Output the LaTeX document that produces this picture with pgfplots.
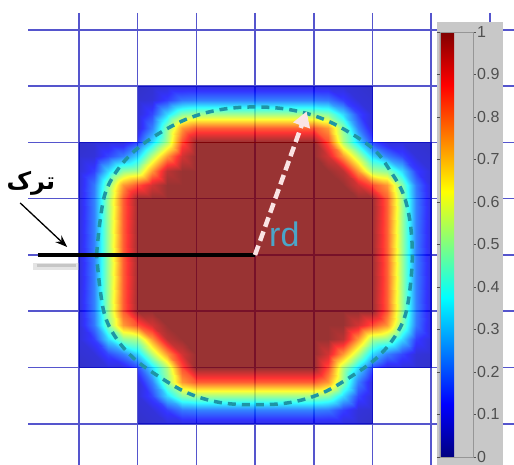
\documentclass[border=0pt]{standalone}
\usepackage{fontspec}
\setmainfont{Liberation Sans}
\newfontfamily\arabicfont[Script=Arabic]{DejaVu Sans}
\usepackage{pgfplots}
\pgfplotsset{compat=1.18}
\usetikzlibrary{arrows.meta}
\TeXXeTstate=1
\definecolor{gridblue}{RGB}{85,85,205}
\definecolor{contourcol}{RGB}{30,150,165}
\definecolor{rdcol}{RGB}{75,165,200}
\definecolor{cbgray}{RGB}{200,200,200}
\definecolor{labgray}{RGB}{80,80,80}
\definecolor{arrowwhite}{RGB}{250,228,228}
\begin{document}
\begin{tikzpicture}
\begin{axis}[name=main, view={0}{90}, scale only axis, width=514pt, height=465pt,
  xmin=-4.344, xmax=4.412, ymin=-3.730, ymax=4.529,
  xtick=\empty, ytick=\empty, ztick=\empty, axis line style={draw=none},
  colormap/jet, point meta min=0, point meta max=1,
  colorbar shift/.style={},
  colorbar,
  colorbar style={at={(parent axis.south west)}, anchor=south west,
    xshift=440pt, yshift=8pt, scale only axis, width=33pt, height=425pt,
    axis line style={draw=labgray!60, line width=0.4pt},
    ytick={0,0.1,0.2,0.3,0.4,0.5,0.6,0.7,0.8,0.9,1},
    yticklabels={0,0.1,0.2,0.3,0.4,0.5,0.6,0.7,0.8,0.9,1},
    yticklabel pos=right,
    yticklabel style={font=\fontsize{16}{16}\selectfont, text=labgray, inner sep=1pt},
    tick align=outside, major tick length=3pt,
    tick style={labgray, line width=0.6pt}},
  ]
% grid lines
\pgfplotsinvokeforeach{-3,...,4}{
  \draw[gridblue, line width=1.6pt] (axis cs:#1,4.30,0) -- (axis cs:#1,-3.9,0);
  \draw[gridblue, line width=1.6pt] (axis cs:-3.867,#1,0) -- (axis cs:4.5,#1,0);
}
% middle part of the damage field
\addplot3[surf, shader=interp, mesh/cols=25, opacity=0.8, point meta=z] coordinates {
(-3,-2,0.06) (-2.75,-2,0.07) (-2.5,-2,0.08) (-2.25,-2,0.08) (-2,-2,0.16) (-1.75,-2,0.33) (-1.5,-2,0.53) (-1.25,-2,0.84) (-1,-2,1) (-0.75,-2,1) (-0.5,-2,1) (-0.25,-2,1) (0,-2,1) (0.25,-2,1) (0.5,-2,1) (0.75,-2,1) (1,-2,1) (1.25,-2,0.84) (1.5,-2,0.53) (1.75,-2,0.33) (2,-2,0.16) (2.25,-2,0.08) (2.5,-2,0.08) (2.75,-2,0.07) (3,-2,0.06)

(-3,-1.75,0.07) (-2.75,-1.75,0.08) (-2.5,-1.75,0.15) (-2.25,-1.75,0.22) (-2,-1.75,0.33) (-1.75,-1.75,0.54) (-1.5,-1.75,0.75) (-1.25,-1.75,0.93) (-1,-1.75,1) (-0.75,-1.75,1) (-0.5,-1.75,1) (-0.25,-1.75,1) (0,-1.75,1) (0.25,-1.75,1) (0.5,-1.75,1) (0.75,-1.75,1) (1,-1.75,1) (1.25,-1.75,0.93) (1.5,-1.75,0.75) (1.75,-1.75,0.54) (2,-1.75,0.33) (2.25,-1.75,0.22) (2.5,-1.75,0.15) (2.75,-1.75,0.08) (3,-1.75,0.07)

(-3,-1.5,0.08) (-2.75,-1.5,0.14) (-2.5,-1.5,0.33) (-2.25,-1.5,0.49) (-2,-1.5,0.53) (-1.75,-1.5,0.75) (-1.5,-1.5,0.96) (-1.25,-1.5,1) (-1,-1.5,1) (-0.75,-1.5,1) (-0.5,-1.5,1) (-0.25,-1.5,1) (0,-1.5,1) (0.25,-1.5,1) (0.5,-1.5,1) (0.75,-1.5,1) (1,-1.5,1) (1.25,-1.5,1) (1.5,-1.5,0.96) (1.75,-1.5,0.75) (2,-1.5,0.53) (2.25,-1.5,0.49) (2.5,-1.5,0.33) (2.75,-1.5,0.14) (3,-1.5,0.08)

(-3,-1.25,0.08) (-2.75,-1.25,0.21) (-2.5,-1.25,0.48) (-2.25,-1.25,0.75) (-2,-1.25,0.84) (-1.75,-1.25,0.93) (-1.5,-1.25,1) (-1.25,-1.25,1) (-1,-1.25,1) (-0.75,-1.25,1) (-0.5,-1.25,1) (-0.25,-1.25,1) (0,-1.25,1) (0.25,-1.25,1) (0.5,-1.25,1) (0.75,-1.25,1) (1,-1.25,1) (1.25,-1.25,1) (1.5,-1.25,1) (1.75,-1.25,0.93) (2,-1.25,0.84) (2.25,-1.25,0.75) (2.5,-1.25,0.48) (2.75,-1.25,0.21) (3,-1.25,0.08)

(-3,-1,0.08) (-2.75,-1,0.22) (-2.5,-1,0.51) (-2.25,-1,0.82) (-2,-1,1) (-1.75,-1,1) (-1.5,-1,1) (-1.25,-1,1) (-1,-1,1) (-0.75,-1,1) (-0.5,-1,1) (-0.25,-1,1) (0,-1,1) (0.25,-1,1) (0.5,-1,1) (0.75,-1,1) (1,-1,1) (1.25,-1,1) (1.5,-1,1) (1.75,-1,1) (2,-1,1) (2.25,-1,0.82) (2.5,-1,0.51) (2.75,-1,0.22) (3,-1,0.08)

(-3,-0.75,0.08) (-2.75,-0.75,0.22) (-2.5,-0.75,0.51) (-2.25,-0.75,0.82) (-2,-0.75,1) (-1.75,-0.75,1) (-1.5,-0.75,1) (-1.25,-0.75,1) (-1,-0.75,1) (-0.75,-0.75,1) (-0.5,-0.75,1) (-0.25,-0.75,1) (0,-0.75,1) (0.25,-0.75,1) (0.5,-0.75,1) (0.75,-0.75,1) (1,-0.75,1) (1.25,-0.75,1) (1.5,-0.75,1) (1.75,-0.75,1) (2,-0.75,1) (2.25,-0.75,0.82) (2.5,-0.75,0.51) (2.75,-0.75,0.22) (3,-0.75,0.08)

(-3,-0.5,0.08) (-2.75,-0.5,0.22) (-2.5,-0.5,0.51) (-2.25,-0.5,0.82) (-2,-0.5,1) (-1.75,-0.5,1) (-1.5,-0.5,1) (-1.25,-0.5,1) (-1,-0.5,1) (-0.75,-0.5,1) (-0.5,-0.5,1) (-0.25,-0.5,1) (0,-0.5,1) (0.25,-0.5,1) (0.5,-0.5,1) (0.75,-0.5,1) (1,-0.5,1) (1.25,-0.5,1) (1.5,-0.5,1) (1.75,-0.5,1) (2,-0.5,1) (2.25,-0.5,0.82) (2.5,-0.5,0.51) (2.75,-0.5,0.22) (3,-0.5,0.08)

(-3,-0.25,0.08) (-2.75,-0.25,0.22) (-2.5,-0.25,0.51) (-2.25,-0.25,0.82) (-2,-0.25,1) (-1.75,-0.25,1) (-1.5,-0.25,1) (-1.25,-0.25,1) (-1,-0.25,1) (-0.75,-0.25,1) (-0.5,-0.25,1) (-0.25,-0.25,1) (0,-0.25,1) (0.25,-0.25,1) (0.5,-0.25,1) (0.75,-0.25,1) (1,-0.25,1) (1.25,-0.25,1) (1.5,-0.25,1) (1.75,-0.25,1) (2,-0.25,1) (2.25,-0.25,0.82) (2.5,-0.25,0.51) (2.75,-0.25,0.22) (3,-0.25,0.08)

(-3,0,0.08) (-2.75,0,0.22) (-2.5,0,0.51) (-2.25,0,0.82) (-2,0,1) (-1.75,0,1) (-1.5,0,1) (-1.25,0,1) (-1,0,1) (-0.75,0,1) (-0.5,0,1) (-0.25,0,1) (0,0,1) (0.25,0,1) (0.5,0,1) (0.75,0,1) (1,0,1) (1.25,0,1) (1.5,0,1) (1.75,0,1) (2,0,1) (2.25,0,0.82) (2.5,0,0.51) (2.75,0,0.22) (3,0,0.08)

(-3,0.25,0.08) (-2.75,0.25,0.22) (-2.5,0.25,0.51) (-2.25,0.25,0.82) (-2,0.25,1) (-1.75,0.25,1) (-1.5,0.25,1) (-1.25,0.25,1) (-1,0.25,1) (-0.75,0.25,1) (-0.5,0.25,1) (-0.25,0.25,1) (0,0.25,1) (0.25,0.25,1) (0.5,0.25,1) (0.75,0.25,1) (1,0.25,1) (1.25,0.25,1) (1.5,0.25,1) (1.75,0.25,1) (2,0.25,1) (2.25,0.25,0.82) (2.5,0.25,0.51) (2.75,0.25,0.22) (3,0.25,0.08)

(-3,0.5,0.08) (-2.75,0.5,0.22) (-2.5,0.5,0.51) (-2.25,0.5,0.82) (-2,0.5,1) (-1.75,0.5,1) (-1.5,0.5,1) (-1.25,0.5,1) (-1,0.5,1) (-0.75,0.5,1) (-0.5,0.5,1) (-0.25,0.5,1) (0,0.5,1) (0.25,0.5,1) (0.5,0.5,1) (0.75,0.5,1) (1,0.5,1) (1.25,0.5,1) (1.5,0.5,1) (1.75,0.5,1) (2,0.5,1) (2.25,0.5,0.82) (2.5,0.5,0.51) (2.75,0.5,0.22) (3,0.5,0.08)

(-3,0.75,0.08) (-2.75,0.75,0.22) (-2.5,0.75,0.51) (-2.25,0.75,0.82) (-2,0.75,1) (-1.75,0.75,1) (-1.5,0.75,1) (-1.25,0.75,1) (-1,0.75,1) (-0.75,0.75,1) (-0.5,0.75,1) (-0.25,0.75,1) (0,0.75,1) (0.25,0.75,1) (0.5,0.75,1) (0.75,0.75,1) (1,0.75,1) (1.25,0.75,1) (1.5,0.75,1) (1.75,0.75,1) (2,0.75,1) (2.25,0.75,0.82) (2.5,0.75,0.51) (2.75,0.75,0.22) (3,0.75,0.08)

(-3,1,0.08) (-2.75,1,0.22) (-2.5,1,0.51) (-2.25,1,0.82) (-2,1,1) (-1.75,1,1) (-1.5,1,1) (-1.25,1,1) (-1,1,1) (-0.75,1,1) (-0.5,1,1) (-0.25,1,1) (0,1,1) (0.25,1,1) (0.5,1,1) (0.75,1,1) (1,1,1) (1.25,1,1) (1.5,1,1) (1.75,1,1) (2,1,1) (2.25,1,0.82) (2.5,1,0.51) (2.75,1,0.22) (3,1,0.08)

(-3,1.25,0.08) (-2.75,1.25,0.21) (-2.5,1.25,0.48) (-2.25,1.25,0.75) (-2,1.25,0.84) (-1.75,1.25,0.93) (-1.5,1.25,1) (-1.25,1.25,1) (-1,1.25,1) (-0.75,1.25,1) (-0.5,1.25,1) (-0.25,1.25,1) (0,1.25,1) (0.25,1.25,1) (0.5,1.25,1) (0.75,1.25,1) (1,1.25,1) (1.25,1.25,1) (1.5,1.25,1) (1.75,1.25,0.93) (2,1.25,0.84) (2.25,1.25,0.75) (2.5,1.25,0.48) (2.75,1.25,0.21) (3,1.25,0.08)

(-3,1.5,0.08) (-2.75,1.5,0.14) (-2.5,1.5,0.33) (-2.25,1.5,0.49) (-2,1.5,0.53) (-1.75,1.5,0.75) (-1.5,1.5,0.96) (-1.25,1.5,1) (-1,1.5,1) (-0.75,1.5,1) (-0.5,1.5,1) (-0.25,1.5,1) (0,1.5,1) (0.25,1.5,1) (0.5,1.5,1) (0.75,1.5,1) (1,1.5,1) (1.25,1.5,1) (1.5,1.5,0.96) (1.75,1.5,0.75) (2,1.5,0.53) (2.25,1.5,0.49) (2.5,1.5,0.33) (2.75,1.5,0.14) (3,1.5,0.08)

(-3,1.75,0.07) (-2.75,1.75,0.08) (-2.5,1.75,0.15) (-2.25,1.75,0.22) (-2,1.75,0.33) (-1.75,1.75,0.54) (-1.5,1.75,0.75) (-1.25,1.75,0.93) (-1,1.75,1) (-0.75,1.75,1) (-0.5,1.75,1) (-0.25,1.75,1) (0,1.75,1) (0.25,1.75,1) (0.5,1.75,1) (0.75,1.75,1) (1,1.75,1) (1.25,1.75,0.93) (1.5,1.75,0.75) (1.75,1.75,0.54) (2,1.75,0.33) (2.25,1.75,0.22) (2.5,1.75,0.15) (2.75,1.75,0.08) (3,1.75,0.07)

(-3,2,0.06) (-2.75,2,0.07) (-2.5,2,0.08) (-2.25,2,0.08) (-2,2,0.16) (-1.75,2,0.33) (-1.5,2,0.53) (-1.25,2,0.84) (-1,2,1) (-0.75,2,1) (-0.5,2,1) (-0.25,2,1) (0,2,1) (0.25,2,1) (0.5,2,1) (0.75,2,1) (1,2,1) (1.25,2,0.84) (1.5,2,0.53) (1.75,2,0.33) (2,2,0.16) (2.25,2,0.08) (2.5,2,0.08) (2.75,2,0.07) (3,2,0.06)
};
% top part
\addplot3[surf, shader=interp, mesh/cols=17, opacity=0.8, point meta=z] coordinates {
(-2,2,0.16) (-1.75,2,0.33) (-1.5,2,0.53) (-1.25,2,0.84) (-1,2,1) (-0.75,2,1) (-0.5,2,1) (-0.25,2,1) (0,2,1) (0.25,2,1) (0.5,2,1) (0.75,2,1) (1,2,1) (1.25,2,0.84) (1.5,2,0.53) (1.75,2,0.33) (2,2,0.16)

(-2,2.25,0.08) (-1.75,2.25,0.22) (-1.5,2.25,0.49) (-1.25,2.25,0.75) (-1,2.25,0.82) (-0.75,2.25,0.82) (-0.5,2.25,0.82) (-0.25,2.25,0.82) (0,2.25,0.82) (0.25,2.25,0.82) (0.5,2.25,0.82) (0.75,2.25,0.82) (1,2.25,0.82) (1.25,2.25,0.75) (1.5,2.25,0.49) (1.75,2.25,0.22) (2,2.25,0.08)

(-2,2.5,0.08) (-1.75,2.5,0.15) (-1.5,2.5,0.33) (-1.25,2.5,0.48) (-1,2.5,0.51) (-0.75,2.5,0.51) (-0.5,2.5,0.51) (-0.25,2.5,0.51) (0,2.5,0.51) (0.25,2.5,0.51) (0.5,2.5,0.51) (0.75,2.5,0.51) (1,2.5,0.51) (1.25,2.5,0.48) (1.5,2.5,0.33) (1.75,2.5,0.15) (2,2.5,0.08)

(-2,2.75,0.07) (-1.75,2.75,0.08) (-1.5,2.75,0.14) (-1.25,2.75,0.21) (-1,2.75,0.22) (-0.75,2.75,0.22) (-0.5,2.75,0.22) (-0.25,2.75,0.22) (0,2.75,0.22) (0.25,2.75,0.22) (0.5,2.75,0.22) (0.75,2.75,0.22) (1,2.75,0.22) (1.25,2.75,0.21) (1.5,2.75,0.14) (1.75,2.75,0.08) (2,2.75,0.07)

(-2,3,0.06) (-1.75,3,0.07) (-1.5,3,0.08) (-1.25,3,0.08) (-1,3,0.08) (-0.75,3,0.08) (-0.5,3,0.08) (-0.25,3,0.08) (0,3,0.08) (0.25,3,0.08) (0.5,3,0.08) (0.75,3,0.08) (1,3,0.08) (1.25,3,0.08) (1.5,3,0.08) (1.75,3,0.07) (2,3,0.06)
};
% bottom part
\addplot3[surf, shader=interp, mesh/cols=17, opacity=0.8, point meta=z] coordinates {
(-2,-3,0.06) (-1.75,-3,0.07) (-1.5,-3,0.08) (-1.25,-3,0.08) (-1,-3,0.08) (-0.75,-3,0.08) (-0.5,-3,0.08) (-0.25,-3,0.08) (0,-3,0.08) (0.25,-3,0.08) (0.5,-3,0.08) (0.75,-3,0.08) (1,-3,0.08) (1.25,-3,0.08) (1.5,-3,0.08) (1.75,-3,0.07) (2,-3,0.06)

(-2,-2.75,0.07) (-1.75,-2.75,0.08) (-1.5,-2.75,0.14) (-1.25,-2.75,0.21) (-1,-2.75,0.22) (-0.75,-2.75,0.22) (-0.5,-2.75,0.22) (-0.25,-2.75,0.22) (0,-2.75,0.22) (0.25,-2.75,0.22) (0.5,-2.75,0.22) (0.75,-2.75,0.22) (1,-2.75,0.22) (1.25,-2.75,0.21) (1.5,-2.75,0.14) (1.75,-2.75,0.08) (2,-2.75,0.07)

(-2,-2.5,0.08) (-1.75,-2.5,0.15) (-1.5,-2.5,0.33) (-1.25,-2.5,0.48) (-1,-2.5,0.51) (-0.75,-2.5,0.51) (-0.5,-2.5,0.51) (-0.25,-2.5,0.51) (0,-2.5,0.51) (0.25,-2.5,0.51) (0.5,-2.5,0.51) (0.75,-2.5,0.51) (1,-2.5,0.51) (1.25,-2.5,0.48) (1.5,-2.5,0.33) (1.75,-2.5,0.15) (2,-2.5,0.08)

(-2,-2.25,0.08) (-1.75,-2.25,0.22) (-1.5,-2.25,0.49) (-1.25,-2.25,0.75) (-1,-2.25,0.82) (-0.75,-2.25,0.82) (-0.5,-2.25,0.82) (-0.25,-2.25,0.82) (0,-2.25,0.82) (0.25,-2.25,0.82) (0.5,-2.25,0.82) (0.75,-2.25,0.82) (1,-2.25,0.82) (1.25,-2.25,0.75) (1.5,-2.25,0.49) (1.75,-2.25,0.22) (2,-2.25,0.08)

(-2,-2,0.16) (-1.75,-2,0.33) (-1.5,-2,0.53) (-1.25,-2,0.84) (-1,-2,1) (-0.75,-2,1) (-0.5,-2,1) (-0.25,-2,1) (0,-2,1) (0.25,-2,1) (0.5,-2,1) (0.75,-2,1) (1,-2,1) (1.25,-2,0.84) (1.5,-2,0.53) (1.75,-2,0.33) (2,-2,0.16)
};
% gray box behind the colour bar
\fill[cbgray] (axis cs:3.10,-3.9,0) rectangle (axis cs:4.225,4.139,0);
% dashed contour
\addplot3[color=contourcol, line width=3.5pt, dash pattern=on 8pt off 6pt, smooth, tension=0.6] coordinates {
(-2.7,0,0) (-2.64,0.6,0) (-2.55,1.1,0) (-2.35,1.5,0) (-2.05,1.85,0) (-1.65,2.15,0) (-1.15,2.42,0) (-0.6,2.58,0) (0,2.63,0) (0.6,2.58,0) (1.15,2.42,0) (1.65,2.15,0) (2.05,1.85,0) (2.3,1.5,0) (2.52,1.1,0) (2.64,0.6,0) (2.68,0,0) (2.64,-0.6,0) (2.55,-1.1,0) (2.35,-1.5,0) (2.05,-1.85,0) (1.65,-2.15,0) (1.15,-2.45,0) (0.6,-2.62,0) (0,-2.66,0) (-0.6,-2.62,0) (-1.15,-2.45,0) (-1.65,-2.15,0) (-2.05,-1.85,0) (-2.35,-1.5,0) (-2.55,-1.1,0) (-2.64,-0.6,0) (-2.7,0,0)
};
% crack
\draw[black!30, line width=7pt, opacity=0.35] (axis cs:-3.78,-0.2,0) -- (axis cs:-3.0,-0.2,0);
\draw[black!40, line width=3pt, opacity=0.4] (axis cs:-3.72,-0.18,0) -- (axis cs:-3.05,-0.18,0);
\draw[black, line width=4pt] (axis cs:-3.70,0,0) -- (axis cs:0,0,0);
% radius arrow
\draw[arrowwhite, line width=4.5pt, dash pattern=on 10pt off 5pt, -{Triangle[length=15pt,width=17pt]}] (axis cs:0,0,0) -- (axis cs:0.88,2.55,0);
\node[text=rdcol, font=\fontsize{34}{34}\selectfont] at (axis cs:0.50,0.36,0) {rd};
% crack label
\node[font=\arabicfont\bfseries\fontsize{24}{26}\selectfont] at (axis cs:-3.82,1.28,0) {\beginR ترک\endR};
\draw[black, line width=1.3pt, -{Stealth[length=12pt,width=9pt]}] (axis cs:-4.0,0.924,0) -- (axis cs:-3.2,0.142,0);
\end{axis}
\path[use as bounding box] (main.south west) rectangle (main.north east);
\end{tikzpicture}
\end{document}
